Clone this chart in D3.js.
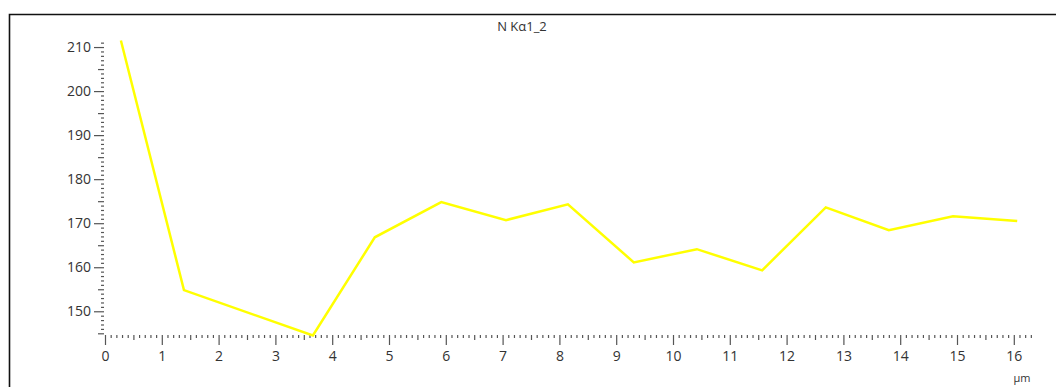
<!DOCTYPE html>
<html>
<head>
<meta charset="utf-8">
<script src="https://cdn.jsdelivr.net/npm/d3@7"></script>
<style>
  html, body { margin: 0; padding: 0; background: #fff; }
  svg { display: block; }
  .lbl { font-family: "Open Sans", "Noto Sans", sans-serif; fill: #333; }
</style>
</head>
<body>
<svg id="chart" width="1056" height="387"></svg>
<script>
// Line scan profile: N Kα1_2 counts vs distance (µm)
const title = "N Kα1_2";
const unitLabel = "µm";
const distance = [0.28, 1.39, 3.66, 4.75, 5.92, 7.06, 8.15, 9.31, 10.42, 11.57, 12.69, 13.8, 14.93, 16.06];
const counts   = [211.5, 154.8, 144.5, 166.8, 174.8, 170.7, 174.3, 161.1, 164.1, 159.3, 173.6, 168.4, 171.6, 170.5];
const xTickLabels = ["0","1","2","3","4","5","6","7","8","9","10","11","12","13","14","15","16"];
const yTickLabels = ["150","160","170","180","190","200","210"];

const svg = d3.select("#chart");
const W = 1056, H = 387;

// frame: left and top edges visible, right/bottom run off the canvas
svg.append("path")
  .attr("d", `M9.5,${H + 2} V14.5 H${W + 2}`)
  .attr("fill", "none")
  .attr("stroke", "#111")
  .attr("stroke-width", 1.6);

const xDomainMax = 16.35;
const x = d3.scaleLinear().domain([0, xDomainMax]).range([105, 105 + xDomainMax * 56.8]);
const y = d3.scaleLinear().domain([144.5, 211.6]).range([335.5, 40]);

const tickColor = "#555";

// X axis: minor (0.1), medium (0.5), major (1) ticks, no spine
const xMinor = d3.range(0, xDomainMax + 1e-6, 0.1).map(v => +v.toFixed(1));
const xMid = d3.range(0.5, xDomainMax, 1);
const xMajor = xTickLabels.map(Number);

function xAxisLayer(vals, len, withLabels) {
  const ax = d3.axisBottom(x).tickValues(vals).tickSizeInner(len).tickSizeOuter(0)
    .tickPadding(6)
    .tickFormat(withLabels ? (d => xTickLabels[xMajor.indexOf(d)]) : () => "");
  const g = svg.append("g").attr("transform", "translate(0,335)").call(ax);
  g.select(".domain").remove();
  g.selectAll(".tick line").attr("stroke", tickColor).attr("stroke-width", 1.2);
  g.selectAll(".tick text").attr("class", "lbl").attr("font-size", 14).attr("fill", "#333");
  return g;
}
xAxisLayer(xMinor.filter(v => Math.abs(v * 2 - Math.round(v * 2)) > 1e-6), 3, false);
xAxisLayer(xMid, 5, false);
xAxisLayer(xMajor, 10, true);

// Y axis: minor (1), medium (5), major (10) ticks pointing left
const yMinor = d3.range(145, 212, 1).filter(v => v % 5 !== 0);
const yMid = d3.range(145, 212, 10);
const yMajor = yTickLabels.map(Number);

function yAxisLayer(vals, len, withLabels) {
  const ax = d3.axisLeft(y).tickValues(vals).tickSizeInner(len).tickSizeOuter(0)
    .tickPadding(3)
    .tickFormat(withLabels ? (d => yTickLabels[yMajor.indexOf(d)]) : () => "");
  const g = svg.append("g").attr("transform", "translate(104,0)").call(ax);
  g.select(".domain").remove();
  g.selectAll(".tick line").attr("stroke", tickColor).attr("stroke-width", 1.2);
  g.selectAll(".tick text").attr("class", "lbl").attr("font-size", 14).attr("fill", "#333");
  return g;
}
yAxisLayer(yMinor, 3, false);
yAxisLayer(yMid, 6, false);
yAxisLayer(yMajor, 10, true);

// profile line
const line = d3.line().x((d, i) => x(distance[i])).y(d => y(d));
svg.append("path")
  .datum(counts)
  .attr("d", line)
  .attr("fill", "none")
  .attr("stroke", "#ffff00")
  .attr("stroke-width", 2.5)
  .attr("stroke-linejoin", "miter");

// title and unit
svg.append("text").attr("class", "lbl")
  .attr("x", 522).attr("y", 31)
  .attr("text-anchor", "middle")
  .attr("font-size", 13)
  .text(title);

svg.append("text").attr("class", "lbl")
  .attr("x", 1022).attr("y", 382)
  .attr("text-anchor", "middle")
  .attr("font-size", 11)
  .text(unitLabel);
</script>
</body>
</html>
